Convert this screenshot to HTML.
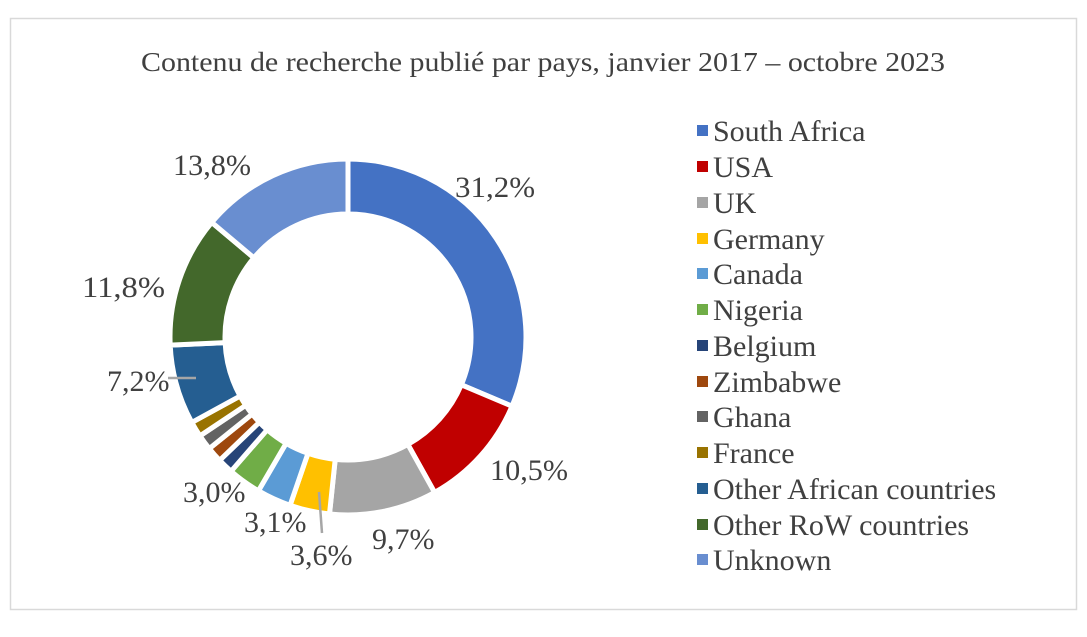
<!DOCTYPE html>
<html><head><meta charset="utf-8"><style>
html,body{margin:0;padding:0;background:#fff;}
svg text{font-family:"Liberation Serif",serif;fill:#404040;}
</style></head><body>
<svg id="s" width="1087" height="632" xmlns="http://www.w3.org/2000/svg">
<rect x="10.5" y="18.5" width="1066" height="591" fill="#fff" stroke="#d9d9d9" stroke-width="1.5"/>
<text x="543" y="71" font-size="27" text-anchor="middle" textLength="804" lengthAdjust="spacingAndGlyphs">Contenu de recherche publié par pays, janvier 2017 – octobre 2023</text>
<g id="ring"></g>
<g font-size="30">
<text x="455" y="197" textLength="80" lengthAdjust="spacingAndGlyphs">31,2%</text>
<text x="490" y="480" textLength="78" lengthAdjust="spacingAndGlyphs">10,5%</text>
<text x="372" y="549">9,7%</text>
<text x="290" y="565">3,6%</text>
<text x="244" y="532">3,1%</text>
<text x="183" y="502">3,0%</text>
<text x="107" y="391">7,2%</text>
<text x="82" y="297" textLength="83" lengthAdjust="spacingAndGlyphs">11,8%</text>
<text x="173" y="175" textLength="78" lengthAdjust="spacingAndGlyphs">13,8%</text>
</g>
<line x1="168" y1="378" x2="196" y2="378" stroke="#a6a6a6" stroke-width="2.5"/>
<line x1="319" y1="492" x2="322" y2="533" stroke="#a6a6a6" stroke-width="2.5"/>
<g font-size="30" id="leg">
<rect x="697" y="125" width="11" height="11" fill="#4472c4"/><text x="713" y="141">South Africa</text>
<rect x="697" y="161" width="11" height="11" fill="#c00000"/><text x="713" y="177">USA</text>
<rect x="697" y="197" width="11" height="11" fill="#a5a5a5"/><text x="713" y="213">UK</text>
<rect x="697" y="233" width="11" height="11" fill="#ffc000"/><text x="713" y="249">Germany</text>
<rect x="697" y="268" width="11" height="11" fill="#5b9bd5"/><text x="713" y="284">Canada</text>
<rect x="697" y="304" width="11" height="11" fill="#70ad47"/><text x="713" y="320">Nigeria</text>
<rect x="697" y="340" width="11" height="11" fill="#264478"/><text x="713" y="356">Belgium</text>
<rect x="697" y="376" width="11" height="11" fill="#9e480e"/><text x="713" y="392">Zimbabwe</text>
<rect x="697" y="411" width="11" height="11" fill="#636363"/><text x="713" y="427">Ghana</text>
<rect x="697" y="447" width="11" height="11" fill="#997300"/><text x="713" y="463">France</text>
<rect x="697" y="483" width="11" height="11" fill="#255e91"/><text x="713" y="499">Other African countries</text>
<rect x="697" y="519" width="11" height="11" fill="#43682b"/><text x="713" y="535">Other RoW countries</text>
<rect x="697" y="554" width="11" height="11" fill="#698ed0"/><text x="713" y="570">Unknown</text>
</g>
</svg>
<script>
var d=[[31.2,"#4472c4"],[10.5,"#c00000"],[9.7,"#a5a5a5"],[3.6,"#ffc000"],[3.1,"#5b9bd5"],[3.0,"#70ad47"],[1.4,"#264478"],[1.4,"#9e480e"],[1.4,"#636363"],[1.4,"#997300"],[7.2,"#255e91"],[11.8,"#43682b"],[13.8,"#698ed0"]];
var tot=0;d.forEach(function(x){tot+=x[0]});
var cx=348,cy=337,R=178,r=123,a=0,h="";
function p(ang,rad){var t=(ang-90)*Math.PI/180;return (cx+rad*Math.cos(t)).toFixed(2)+","+(cy+rad*Math.sin(t)).toFixed(2);}
d.forEach(function(x){var b=a+x[0]/tot*360;var l=(b-a)>180?1:0;
h+='<path d="M'+p(a,R)+' A'+R+','+R+' 0 '+l+' 1 '+p(b,R)+' L'+p(b,r)+' A'+r+','+r+' 0 '+l+' 0 '+p(a,r)+' Z" fill="'+x[1]+'" stroke="#fff" stroke-width="5"/>';a=b;});
document.getElementById("ring").innerHTML=h;
</script>
</body></html>
